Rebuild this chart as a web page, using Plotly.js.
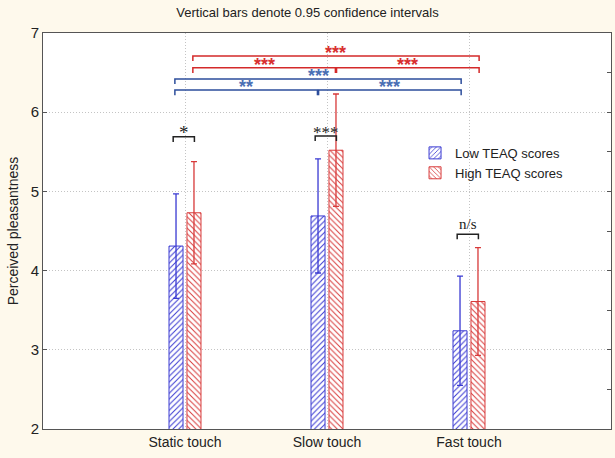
<!DOCTYPE html>
<html>
<head>
<meta charset="utf-8">
<script src="https://cdn.plot.ly/plotly-3.0.1.min.js"></script>
<style>html,body{margin:0;padding:0;background:#FEF9EC;}#chart{width:615px;height:458px;}</style>
</head>
<body>
<div id="chart"></div>
<script>
// ---- data ----
const categories = ['Static touch', 'Slow touch', 'Fast touch'];
const seriesNames = ['Low TEAQ scores', 'High TEAQ scores'];
const lowMeans = [4.31, 4.69, 3.24];
const lowCI = [0.66, 0.72, 0.69];
const highMeans = [4.73, 5.52, 3.61];
const highCI = [0.645, 0.71, 0.68];
const yTicks = [2, 3, 4, 5, 6, 7];
// significance comparisons: [category A, series A, category B, series B, label]
const sigCatA = [0, 1, 2, 0, 1, 0, 0, 1, 0];
const sigSerA = [0, 0, 0, 0, 0, 0, 1, 1, 1];
const sigCatB = [0, 1, 2, 1, 2, 2, 1, 2, 2];
const sigSerB = [1, 1, 1, 0, 0, 0, 1, 1, 1];
const sigLabels = ['*', '***', 'n/s', '**', '***', '***', '***', '***', '***'];
const sigLevels = [5.69, 5.70, 4.46, 6.28, 6.28, 6.42, 6.56, 6.56, 6.71];

// ---- style ----
const blue = '#3a3ad2', red = '#d83a3a';
const bracketBlue = '#2d4e9c', bracketRed = '#d42a2a';
const labelBlue = '#4a6fb4', labelRed = '#d83030';
const bargap = 0.747, bargroupgap = 0.22;
const slot = (1 - bargap) / 2;
const serOffset = [-slot / 2, slot / 2];

const traces = [
  {
    type: 'bar', name: seriesNames[0], x: categories, y: lowMeans,
    marker: {color: 'white', line: {color: blue, width: 1},
      pattern: {shape: '/', fgcolor: blue, bgcolor: 'white', size: 4, solidity: 0.25}},
    error_y: {type: 'data', array: lowCI, visible: true, color: blue, thickness: 1.3, width: 3}
  },
  {
    type: 'bar', name: seriesNames[1], x: categories, y: highMeans,
    marker: {color: 'white', line: {color: red, width: 1},
      pattern: {shape: '\\', fgcolor: red, bgcolor: 'white', size: 4, solidity: 0.25}},
    error_y: {type: 'data', array: highCI, visible: true, color: red, thickness: 1.3, width: 3}
  },
  {
    // invisible helper on right axis to show the half-unit tick marks
    type: 'scatter', x: [categories[0]], y: [null], yaxis: 'y2', showlegend: false, hoverinfo: 'skip'
  }
];

const shapes = [], annotations = [];
const tick = 0.065;
for (let i = 0; i < sigLabels.length; i++) {
  const same = sigCatA[i] === sigCatB[i];
  let xa = sigCatA[i] + serOffset[sigSerA[i]];
  let xb = sigCatB[i] + serOffset[sigSerB[i]];
  let col, font, yshift;
  if (same) {
    col = '#222';
    xa -= 0.02; xb += 0.003;
    if (sigLabels[i] === 'n/s') {
      font = {family: 'Liberation Serif, serif', size: 15, color: '#222'};
      yshift = 0;
    } else {
      font = {family: 'Liberation Serif, serif', size: sigLabels[i].length > 1 ? 17 : 19, color: '#222'};
      yshift = -8;
    }
  } else {
    const isLow = sigSerA[i] === 0;
    col = isLow ? bracketBlue : bracketRed;
    xa -= 0.008; xb += 0.008;
    if (sigCatB[i] - sigCatA[i] === 1) {
      if (sigCatA[i] === 1) xa += 0.012; else xb -= 0.012;
    }
    font = {family: 'Liberation Sans, Arial, sans-serif', size: 18, color: isLow ? labelBlue : labelRed, weight: 'bold'};
    yshift = -9;
  }
  const y = sigLevels[i];
  shapes.push({type: 'path', xref: 'x', yref: 'y',
    path: `M ${xa} ${y - tick} L ${xa} ${y} L ${xb} ${y} L ${xb} ${y - tick}`,
    line: {color: col, width: 1.5}});
  annotations.push({xref: 'x', yref: 'y', x: (xa + xb) / 2, y: y, text: sigLabels[i],
    showarrow: false, yanchor: 'bottom', yshift: yshift, font: font});
}

const grid = {gridcolor: '#c4c4c4', griddash: '1px,2px', gridwidth: 1};
const layout = {
  width: 615, height: 458,
  paper_bgcolor: '#FEF9EC', plot_bgcolor: 'white',
  margin: {l: 43, r: 4, t: 33, b: 29},
  font: {family: 'Liberation Sans, Arial, sans-serif', color: '#222'},
  title: {text: 'Vertical bars denote 0.95 confidence intervals', font: {size: 13, color: '#222'},
    x: 0.5, xanchor: 'center', y: 0.972, yanchor: 'middle', yref: 'container'},
  barmode: 'group', bargap: bargap, bargroupgap: bargroupgap,
  showlegend: true,
  legend: {x: 0.655, y: 0.735, xanchor: 'left', yanchor: 'top', bgcolor: 'rgba(0,0,0,0)',
    font: {size: 13, color: '#222'}, tracegroupgap: 0},
  xaxis: Object.assign({type: 'category', range: [-1, 3], showgrid: true,
    showline: true, linecolor: '#555', linewidth: 1, mirror: true, ticks: '',
    tickfont: {size: 14, color: '#222'}, zeroline: false}, grid),
  yaxis: Object.assign({range: [2, 7], tickvals: yTicks, showgrid: true,
    showline: true, linecolor: '#555', linewidth: 1, mirror: true, ticks: 'inside', ticklen: 4, tickcolor: '#555',
    tickfont: {size: 15, color: '#222'}, zeroline: false,
    title: {text: 'Perceived pleasantness', font: {size: 14, color: '#222'}, standoff: 8}}, grid),
  yaxis2: {overlaying: 'y', side: 'right', range: [2, 7], dtick: 0.5, ticks: 'inside', ticklen: 4,
    tickcolor: '#555', showticklabels: false, showgrid: false, zeroline: false, showline: false},
  shapes: shapes, annotations: annotations
};

Plotly.newPlot('chart', traces, layout, {staticPlot: true, displayModeBar: false});
</script>
</body>
</html>
